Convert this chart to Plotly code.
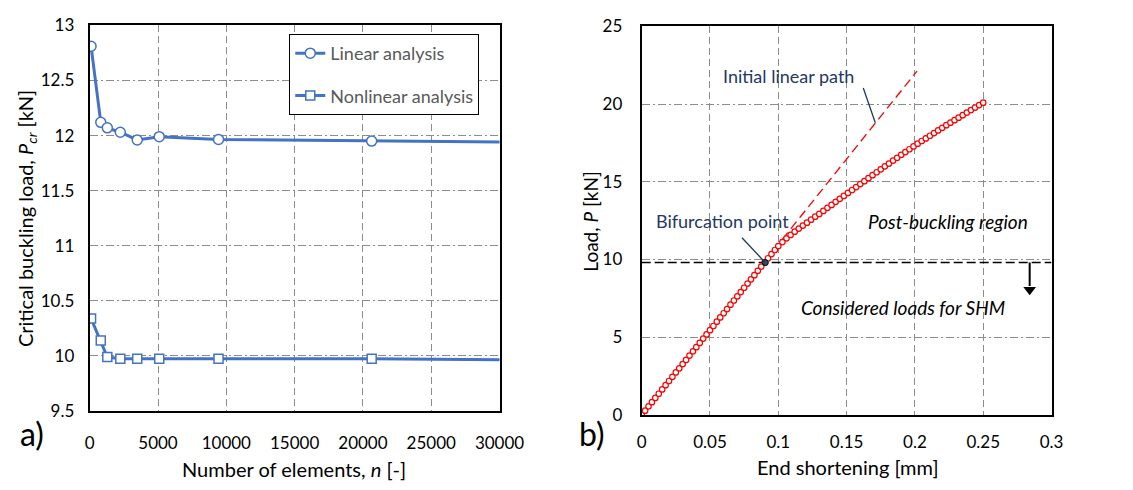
import plotly.graph_objects as go

# ---------------- data: panel a) ----------------
n_elements = [100, 810, 1290, 2240, 3480, 5090, 9430, 20640, 40000]
pcr_linear = [12.81, 12.12, 12.07, 12.03, 11.96, 11.99, 11.965, 11.95, 11.93]
pcr_nonlinear = [10.34, 10.14, 9.99, 9.975, 9.975, 9.975, 9.975, 9.975, 9.955]

# ---------------- data: panel b) ----------------
shortening = [
    0.0, 0.0025, 0.005, 0.0075, 0.01, 0.0125, 0.015, 0.0175, 0.02, 0.0225,
    0.025, 0.0275, 0.03, 0.0325, 0.035, 0.0375, 0.04, 0.0425, 0.045, 0.0475,
    0.05, 0.0525, 0.055, 0.0575, 0.06, 0.0625, 0.065, 0.0675, 0.07, 0.0725,
    0.075, 0.0775, 0.08, 0.0825, 0.085, 0.0875, 0.09, 0.0925, 0.095, 0.0975,
    0.1, 0.103, 0.106, 0.109, 0.112, 0.115, 0.118, 0.121, 0.124, 0.127,
    0.13, 0.133, 0.136, 0.139, 0.142, 0.145, 0.148, 0.151, 0.154, 0.157,
    0.16, 0.163, 0.166, 0.169, 0.172, 0.175, 0.178, 0.181, 0.184, 0.187,
    0.19, 0.193, 0.196, 0.199, 0.202, 0.205, 0.208, 0.211, 0.214, 0.217,
    0.22, 0.223, 0.226, 0.229, 0.232, 0.235, 0.238, 0.241, 0.244, 0.247, 0.25,
]
load = [
    0.0, 0.27, 0.55, 0.82, 1.09, 1.36, 1.64, 1.91, 2.18, 2.45,
    2.73, 3.00, 3.27, 3.54, 3.82, 4.09, 4.36, 4.63, 4.91, 5.18,
    5.45, 5.72, 6.00, 6.27, 6.54, 6.81, 7.09, 7.36, 7.63, 7.90,
    8.18, 8.45, 8.72, 8.99, 9.27, 9.54, 9.81, 10.08, 10.35, 10.61,
    10.86, 11.12, 11.36, 11.58, 11.79, 11.99, 12.18, 12.37, 12.56, 12.75,
    12.93, 13.12, 13.32, 13.51, 13.71, 13.90, 14.09, 14.28, 14.47, 14.66,
    14.85, 15.04, 15.23, 15.42, 15.61, 15.80, 15.99, 16.17, 16.36, 16.54,
    16.73, 16.91, 17.09, 17.27, 17.45, 17.62, 17.79, 17.96, 18.13, 18.30,
    18.47, 18.64, 18.80, 18.96, 19.12, 19.28, 19.45, 19.61, 19.77, 19.93, 20.09,
]
linear_path_x = [0.09, 0.2015]
linear_path_y = [9.87, 22.12]
bifurcation_x = [0.0905]
bifurcation_y = [9.8]
shm_limit_x = [0.0, 0.3]
shm_limit_y = [9.8, 9.8]
arrow_x = [0.284, 0.284]
arrow_y = [9.8, 8.3]
arrow_head_x = [0.284]
arrow_head_y = [8.05]

x_ticks_a = [0, 5000, 10000, 15000, 20000, 25000, 30000]
y_ticks_a = [9.5, 10, 10.5, 11, 11.5, 12, 12.5, 13]
x_ticks_b = [0, 0.05, 0.1, 0.15, 0.2, 0.25, 0.3]
y_ticks_b = [0, 5, 10, 15, 20, 25]

BLUE = "#4472C4"
NAVY = "#1F3864"
FONT = "Lato"
W, H = 1133, 490

fig = go.Figure()

fig.add_trace(go.Scatter(
    x=n_elements, y=pcr_linear, xaxis="x", yaxis="y",
    mode="lines+markers", name="Linear analysis", legendgroup="g1",
    line=dict(color=BLUE, width=3),
    marker=dict(symbol="circle", size=10, color="white", line=dict(color=BLUE, width=1.5)),
))
fig.add_trace(go.Scatter(
    x=n_elements, y=pcr_nonlinear, xaxis="x", yaxis="y",
    mode="lines+markers", name="Nonlinear analysis", legendgroup="g2",
    line=dict(color=BLUE, width=3),
    marker=dict(symbol="square", size=9, color="white", line=dict(color=BLUE, width=1.5)),
))

fig.add_trace(go.Scatter(
    x=shm_limit_x, y=shm_limit_y, xaxis="x2", yaxis="y2", mode="lines",
    line=dict(color="black", width=1.5, dash="9px,4px"), showlegend=False,
))
fig.add_trace(go.Scatter(
    x=arrow_x, y=arrow_y, xaxis="x2", yaxis="y2", mode="lines",
    line=dict(color="black", width=2), showlegend=False,
))
fig.add_trace(go.Scatter(
    x=arrow_head_x, y=arrow_head_y, xaxis="x2", yaxis="y2", mode="markers",
    marker=dict(symbol="triangle-down", size=11, color="black"), showlegend=False,
))
fig.add_trace(go.Scatter(
    x=linear_path_x, y=linear_path_y, xaxis="x2", yaxis="y2", mode="lines",
    line=dict(color="red", width=1.3, dash="9px,5px"), showlegend=False,
))
fig.add_trace(go.Scatter(
    x=shortening, y=load, xaxis="x2", yaxis="y2", mode="markers",
    marker=dict(symbol="circle", size=5.5, color="white", line=dict(color="red", width=1.2)),
    showlegend=False,
))
fig.add_trace(go.Scatter(
    x=bifurcation_x, y=bifurcation_y, xaxis="x2", yaxis="y2", mode="markers",
    marker=dict(symbol="circle", size=6, color="#2F4F6F", line=dict(color="black", width=1)),
    showlegend=False,
))

def px_x(p):
    return p / W

def px_y(p):
    return 1 - p / H

axis_common = dict(
    showline=True, linecolor="black", linewidth=2, mirror=True,
    showgrid=True, gridcolor="#8c8c8c", gridwidth=1,
    ticks="", zeroline=False,
    tickfont=dict(family=FONT, size=17, color="black"),
)

fig.update_layout(
    width=W, height=H,
    margin=dict(l=0, r=0, t=0, b=0),
    paper_bgcolor="white", plot_bgcolor="white",
    font=dict(family=FONT, size=16, color="black"),
    xaxis=dict(domain=[px_x(87), px_x(508)], anchor="y", range=[0, 30000],
               tickvals=x_ticks_a, tickformat="d", griddash="7px,4px",
               ticklabelstandoff=16, **axis_common),
    yaxis=dict(domain=[px_y(418), px_y(15)], anchor="x", range=[9.5, 13],
               tickvals=y_ticks_a, griddash="8px,3px,2px,3px",
               ticklabelstandoff=10, **axis_common),
    xaxis2=dict(domain=[px_x(654), px_x(1075)], anchor="y2", range=[0, 0.3],
                tickvals=x_ticks_b, griddash="7px,4px",
                ticklabelstandoff=11, **axis_common),
    yaxis2=dict(domain=[px_y(422), px_y(16)], anchor="x2", range=[0, 25],
                tickvals=y_ticks_b, griddash="8px,3px,2px,3px",
                ticklabelstandoff=14, **axis_common),
    legend=dict(x=px_x(292), y=px_y(24), xanchor="left", yanchor="top",
                bgcolor="white", bordercolor="black", borderwidth=1,
                font=dict(family=FONT, size=18, color="#595959"),
                tracegroupgap=16, traceorder="grouped"),
    showlegend=True,
)

def paper_text(text, x, y, size, angle=0):
    return dict(text=text, x=px_x(x), y=px_y(y), xref="paper", yref="paper",
                xanchor="center", yanchor="middle", textangle=angle, showarrow=False,
                font=dict(family=FONT, size=size, color="black"))

def data_text(text, x, y, size, color):
    return dict(text=text, x=x, y=y, xref="x2", yref="y2", xanchor="center",
                yanchor="middle", showarrow=False,
                font=dict(family=FONT, size=size, color=color))

annotations = [
    paper_text("Critical buckling load, <i>P<sub>cr</sub></i> [kN]", 22, 217, 20, -90),
    paper_text("Number of elements, <i>n</i> [-]", 297, 478, 20),
    paper_text("Load, <i>P</i> [kN]", 601, 220, 19, -90),
    paper_text("End shortening [mm]", 866, 476, 20),
    paper_text("a)", 28, 441, 32),
    paper_text("b)", 603, 441, 32),
    data_text("Initial linear path", 0.1075, 21.8, 18, NAVY),
    data_text("Bifurcation point", 0.059, 12.45, 18, NAVY),
    data_text("<i>Post-buckling region</i>", 0.224, 12.45, 19, "black"),
    data_text("<i>Considered loads for SHM</i>", 0.191, 6.9, 19, "black"),
]
fig.update_layout(annotations=annotations)

fig.update_layout(shapes=[
    dict(type="line", xref="x2", yref="y2", x0=0.1622, y0=21.03, x1=0.171, y1=18.8,
         line=dict(color=NAVY, width=1.3)),
    dict(type="line", xref="x2", yref="y2", x0=0.0734, y0=11.4, x1=0.0905, y1=9.8,
         line=dict(color=NAVY, width=1.3)),
])

fig.write_html("out.html")
